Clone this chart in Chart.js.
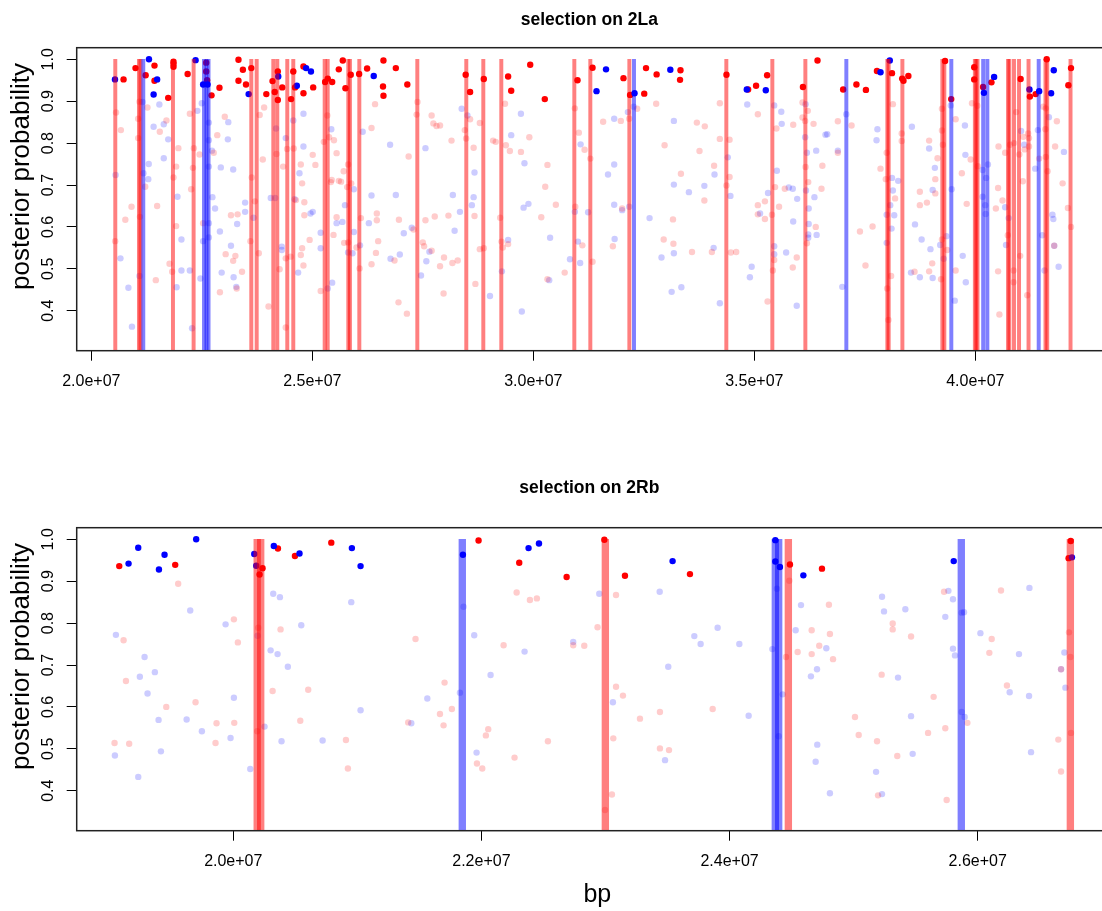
<!DOCTYPE html>
<html><head><meta charset="utf-8">
<script src="https://cdn.jsdelivr.net/npm/chart.js@4.4.1/dist/chart.umd.min.js"></script>
<style>
html,body{margin:0;padding:0;overflow:hidden;background:#fff;width:1102px;height:911px}
#c1{position:absolute;left:0;top:0}
#c2{position:absolute;left:0;top:455px}
</style></head><body>
<canvas id="c1" width="1195" height="455"></canvas>
<canvas id="c2" width="1195" height="456"></canvas>
<script>
// ===== Tick values / labels =====
const topXTicks = [20e6, 25e6, 30e6, 35e6, 40e6];
const topXTickLabels = ["2.0e+07", "2.5e+07", "3.0e+07", "3.5e+07", "4.0e+07"];
const botXTicks = [20e6, 22e6, 24e6, 26e6];
const botXTickLabels = ["2.0e+07", "2.2e+07", "2.4e+07", "2.6e+07"];
const yTicks = [0.4, 0.5, 0.6, 0.7, 0.8, 0.9, 1.0];
const yTickLabels = ["0.4", "0.5", "0.6", "0.7", "0.8", "0.9", "1.0"];

// ===== selection on 2La =====
const topRedHiPos = [20.73e6,21.00e6,21.23e6,21.43e6,21.43e6,21.74e6,21.86e6,21.86e6,21.86e6,22.18e6,22.60e6,22.60e6,22.62e6,22.72e6,22.90e6,23.33e6,23.43e6,23.33e6,23.50e6,23.62e6,23.96e6,24.10e6,24.15e6,24.22e6,24.22e6,24.32e6,24.52e6,24.57e6,24.61e6,24.80e6,24.80e6,25.02e6,25.29e6,25.35e6,25.45e6,25.60e6,25.69e6,25.75e6,25.87e6,26.06e6,26.24e6,26.61e6,26.60e6,26.61e6,26.89e6,27.15e6,28.47e6,28.57e6,28.88e6,29.43e6,29.50e6,29.93e6,30.26e6,31.00e6,31.34e6,32.04e6,32.19e6,32.55e6,32.51e6,32.79e6,33.33e6,33.32e6,34.37e6,34.86e6,35.04e6,35.29e6,36.10e6,36.43e6,37.01e6,37.31e6,37.525e6,37.775e6,38.115e6,38.345e6,38.375e6,38.485e6,39.315e6,39.455e6,39.975e6,39.975e6,40.175e6,40.365e6,41.025e6,41.235e6,41.365e6,41.615e6,42.105e6,42.165e6];
const topRedHiProb = [.952,.979,.962,.985,.949,.908,.994,.989,.982,.965,.992,.971,.950,.914,.932,.999,.975,.949,.940,.979,.917,.948,.922,.971,.903,.933,.905,.971,.933,.983,.919,.933,.946,.954,.946,.976,.997,.931,.963,.965,.978,.997,.935,.913,.979,.940,.963,.922,.953,.959,.925,.987,.905,.950,.980,.955,.915,.979,.918,.964,.974,.951,.963,.928,.937,.962,.934,.997,.928,.940,.927,.972,.967,.954,.949,.960,.996,.905,.981,.952,.934,.945,.953,.911,.917,1.0,.938,.979];
const topBlueHiPos = [20.536e6,21.305e6,21.41e6,21.49e6,22.36e6,22.53e6,22.63e6,23.56e6,24.23e6,24.65e6,24.86e6,24.97e6,26.39e6,31.43e6,31.645e6,32.29e6,33.10e6,34.83e6,35.26e6,37.855e6,38.065e6,40.195e6,40.425e6,41.225e6,41.445e6,41.715e6,41.775e6];
const topBlueHiProb = [.952,1.0,.916,.952,.998,.940,.940,.917,.959,.937,.979,.971,.960,.924,.976,.919,.975,.928,.926,.969,.997,.920,.958,.928,.924,.919,.974];
const topRedLoPos = [20.56e6,20.54e6,20.67e6,20.77e6,20.91e6,21.06e6,21.06e6,21.09e6,21.10e6,21.22e6,21.27e6,21.46e6,21.49e6,21.55e6,21.70e6,21.77e6,21.83e6,21.86e6,21.92e6,21.92e6,21.97e6,22.23e6,22.26e6,22.30e6,22.32e6,22.45e6,22.53e6,22.77e6,22.85e6,22.91e6,23.02e6,23.16e6,23.04e6,23.21e6,23.26e6,23.29e6,23.31e6,23.41e6,23.60e6,23.63e6,23.70e6,23.79e6,23.81e6,23.88e6,23.91e6,24.01e6,24.19e6,24.26e6,24.34e6,24.40e6,24.40e6,24.43e6,24.51e6,24.58e6,24.63e6,24.74e6,24.77e6,24.74e6,24.77e6,24.80e6,24.82e6,24.82e6,24.94e6,25.01e6,25.07e6,25.19e6,25.26e6,25.34e6,25.38e6,25.44e6,25.42e6,25.49e6,25.55e6,25.55e6,25.48e6,25.60e6,
26.42e6,26.34e6,27.18e6,27.38e6,27.36e6,27.70e6,27.74e6,27.81e6,27.89e6,28.15e6,28.57e6,28.45e6,28.48e6,28.65e6,28.79e6,29.09e6,29.15e6,29.36e6,29.38e6,29.47e6,29.72e6,29.91e6,30.32e6,30.27e6,30.51e6,30.18e6,30.94e6,31.03e6,31.16e6,31.29e6,30.95e6,31.11e6,31.34e6,30.71e6,30.32e6,28.69e6,29.43e6,29.28e6,29.31e6,29.25e6,28.79e6,28.88e6,28.67e6,28.08e6,28.29e6,28.17e6,27.98e6,27.89e6,27.97e6,27.77e6,27.56e6,27.50e6,27.53e6,27.70e6,27.29e6,26.96e6,26.86e6,26.95e6,27.14e6,26.46e6,26.46e6,26.49e6,26.44e6,26.34e6,26.10e6,26.00e6,26.07e6,25.81e6,25.72e6,25.71e6,25.65e6,25.79e6,25.81e6,25.88e6,
31.58e6,31.98e6,32.17e6,32.35e6,32.78e6,32.97e6,33.34e6,33.70e6,33.88e6,33.76e6,34.22e6,34.22e6,34.44e6,34.09e6,33.87e6,34.37e6,34.44e6,33.16e6,32.01e6,31.80e6,32.95e6,33.17e6,33.59e6,34.04e6,34.47e6,34.59e6,35.08e6,35.50e6,35.88e6,36.09e6,36.21e6,36.09e6,36.15e6,36.34e6,36.89e6,37.20e6,36.89e6,36.54e6,36.16e6,35.47e6,35.69e6,35.24e6,35.08e6,35.08e6,35.24e6,35.40e6,35.56e6,36.22e6,36.52e6,36.39e6,36.19e6,35.45e6,35.96e6,35.87e6,35.42e6,35.30e6,37.39e6,
38.135e6,38.335e6,38.335e6,37.995e6,37.855e6,37.975e6,38.185e6,37.675e6,37.515e6,38.095e6,38.005e6,38.035e6,39.025e6,38.625e6,38.955e6,39.225e6,38.745e6,38.745e6,38.905e6,39.095e6,39.095e6,39.145e6,38.955e6,39.245e6,39.245e6,39.265e6,39.555e6,39.895e6,39.695e6,39.805e6,39.925e6,40.045e6,40.055e6,40.465e6,40.515e6,40.615e6,40.525e6,40.675e6,40.785e6,40.875e6,40.925e6,41.085e6,40.995e6,41.115e6,41.215e6,41.215e6,41.195e6,41.075e6,41.445e6,41.535e6,41.595e6,41.845e6,41.585e6,41.595e6,41.635e6,41.805e6,41.975e6,42.095e6,42.165e6,41.785e6,40.735e6,40.865e6,40.865e6,41.015e6,41.175e6,40.515e6,40.545e6,39.555e6,39.365e6,39.245e6];
const topRedLoProb = [.873,.566,.831,.617,.648,.858,.812,.899,.624,.696,.885,.473,.650,.827,.854,.512,.493,.718,.602,.744,.788,.870,.690,.741,.788,.773,.609,.777,.819,.444,.863,.628,.535,.519,.531,.453,.630,.493,.566,.718,.661,.537,.867,.761,.885,.410,.774,.499,.744,.525,.360,.786,.529,.787,.664,.749,.704,.533,.549,.508,.659,.628,.569,.772,.748,.447,.803,.866,.814,.712,.707,.807,.776,.623,.581,.710,
.893,.836,.768,.898,.868,.866,.847,.841,.842,.806,.857,.831,.811,.789,.848,.806,.803,.894,.795,.781,.779,.814,.748,.696,.653,.623,.883,.825,.784,.763,.648,.556,.517,.491,.475,.464,.559,.565,.551,.622,.547,.549,.626,.627,.520,.514,.527,.506,.441,.625,.616,.563,.554,.543,.594,.617,.520,.420,.393,.632,.616,.566,.538,.511,.621,.551,.501,.563,.562,.733,.708,.695,.749,.704,
.851,.853,.858,.882,.894,.795,.727,.849,.840,.781,.895,.810,.808,.746,.663,.699,.719,.618,.644,.554,.570,.560,.540,.540,.539,.540,.869,.835,.844,.897,.877,.861,.853,.846,.852,.842,.777,.746,.743,.695,.691,.661,.652,.630,.619,.629,.648,.707,.691,.600,.561,.521,.527,.503,.496,.422,.589,
.893,.823,.805,.777,.739,.714,.668,.601,.508,.483,.453,.378,.513,.493,.494,.475,.684,.652,.658,.680,.714,.764,.806,.882,.830,.796,.857,.761,.728,.655,.895,.889,.745,.644,.693,.663,.792,.777,.796,.800,.874,.815,.773,.785,.812,.792,.823,.709,.763,.887,.883,.852,.833,.767,.733,.792,.704,.645,.600,.555,.580,.496,.468,.531,.437,.494,.391,.496,.545,.570];
const topBlueLoPos = [20.55e6,20.66e6,20.84e6,20.92e6,21.09e6,21.16e6,21.18e6,21.30e6,21.29e6,21.41e6,21.54e6,21.64e6,21.64e6,21.74e6,21.93e6,21.95e6,22.04e6,22.04e6,22.23e6,22.28e6,22.40e6,22.50e6,22.53e6,22.47e6,22.66e6,22.66e6,22.66e6,22.66e6,22.66e6,22.73e6,22.74e6,22.80e6,22.91e6,22.93e6,22.95e6,23.09e6,23.10e6,23.16e6,23.21e6,23.22e6,23.28e6,23.30e6,23.48e6,23.48e6,23.67e6,24.06e6,24.16e6,24.18e6,24.31e6,24.31e6,24.40e6,24.57e6,24.60e6,24.68e6,24.71e6,24.80e6,24.80e6,24.96e6,25.01e6,25.19e6,25.19e6,25.35e6,25.43e6,25.45e6,25.55e6,
26.14e6,26.76e6,27.56e6,28.38e6,28.51e6,28.67e6,29.50e6,29.72e6,29.80e6,29.89e6,29.78e6,31.07e6,30.94e6,31.24e6,30.38e6,31.01e6,30.83e6,31.06e6,30.36e6,29.74e6,29.02e6,29.29e6,29.43e6,28.65e6,28.61e6,28.34e6,28.18e6,28.22e6,27.65e6,27.58e6,27.46e6,27.25e6,27.07e6,26.89e6,26.98e6,26.77e6,26.34e6,26.28e6,26.08e6,25.94e6,25.91e6,25.81e6,25.68e6,25.74e6,25.94e6,
31.83e6,32.14e6,32.27e6,33.18e6,31.83e6,31.69e6,33.18e6,34.40e6,34.10e6,33.87e6,33.52e6,34.46e6,32.63e6,32.01e6,32.17e6,31.83e6,31.84e6,33.18e6,32.90e6,34.08e6,33.13e6,33.35e6,34.22e6,34.84e6,35.45e6,35.61e6,35.62e6,36.16e6,37.08e6,36.15e6,36.61e6,36.65e6,36.40e6,36.19e6,36.89e6,35.51e6,35.78e6,35.87e6,35.31e6,35.13e6,35.97e6,36.17e6,36.36e6,36.23e6,35.88e6,36.23e6,36.22e6,36.41e6,36.22e6,35.45e6,35.45e6,35.72e6,34.94e6,34.90e6,35.96e6,36.99e6,
37.785e6,37.765e6,38.565e6,38.115e6,38.255e6,38.135e6,38.075e6,37.995e6,38.165e6,38.105e6,37.995e6,38.635e6,38.785e6,38.985e6,38.545e6,38.745e6,39.035e6,39.035e6,39.085e6,38.955e6,39.445e6,39.765e6,39.775e6,39.465e6,40.165e6,40.285e6,40.245e6,40.165e6,40.225e6,40.235e6,40.675e6,40.755e6,41.035e6,41.105e6,41.355e6,41.415e6,41.665e6,42.005e6,41.745e6,41.765e6,41.515e6,41.785e6,41.885e6,41.565e6,40.695e6,39.715e6,39.785e6,39.535e6,39.285e6,39.205e6,39.345e6];
const topBlueLoProb = [.724,.525,.455,.362,.483,.898,.728,.750,.714,.839,.892,.845,.764,.809,.456,.672,.570,.496,.496,.358,.877,.895,.566,.477,.849,.807,.744,.609,.575,.782,.671,.644,.589,.742,.491,.809,.850,.555,.737,.480,.457,.607,.658,.636,.622,.669,.669,.835,.553,.545,.812,.854,.666,.491,.728,.870,.792,.632,.636,.586,.549,.453,.833,.467,.609,
.827,.796,.788,.882,.866,.730,.819,.870,.752,.655,.646,.797,.636,.635,.574,.565,.523,.514,.473,.398,.435,.494,.569,.671,.652,.636,.676,.591,.541,.518,.484,.598,.585,.676,.534,.524,.675,.609,.556,.588,.537,.539,.612,.652,.690,
.858,.874,.887,.853,.749,.725,.701,.766,.725,.698,.683,.674,.621,.640,.648,.653,.571,.537,.527,.550,.445,.456,.418,.892,.890,.875,.846,.893,.869,.814,.820,.821,.782,.777,.782,.734,.694,.691,.681,.632,.667,.687,.671,.644,.613,.607,.582,.581,.574,.554,.535,.539,.505,.480,.412,.457,
.833,.807,.839,.717,.710,.687,.652,.629,.628,.596,.562,.606,.570,.547,.491,.480,.478,.688,.741,.787,.890,.842,.772,.690,.736,.749,.717,.672,.652,.631,.647,.621,.829,.796,.739,.831,.862,.779,.629,.619,.580,.555,.505,.496,.557,.531,.468,.424,.524,.557,.578];
const topRedBands = [20.543e6,21.079e6,21.111e6,21.848e6,22.315e6,23.62e6,23.742e6,24.118e6,24.208e6,24.434e6,24.57e6,25.28e6,25.348e6,25.815e6,25.852e6,26.064e6,27.376e6,28.484e6,28.869e6,29.276e6,30.928e6,31.29e6,32.173e6,34.367e6,35.408e6,36.155e6,38.01e6,38.04e6,38.35e6,39.254e6,39.299e6,39.99e6,40.02e6,40.05e6,40.74e6,40.77e6,40.875e6,40.989e6,41.204e6,41.588e6,41.627e6,42.154e6];
const topBlueBands = [21.176e6,22.55e6,22.606e6,22.652e6,32.278e6,37.082e6,39.457e6,40.178e6,40.272e6,41.434e6];

// ===== selection on 2Rb =====
const botRedHiPos = [19.081e6,19.532e6,20.236e6,20.212e6,20.360e6,20.497e6,20.790e6,21.977e6,22.305e6,22.687e6,22.991e6,23.157e6,23.681e6,24.487e6,24.745e6,26.750e6,26.733e6];
const botRedHiProb = [.936,.939,.931,.916,.978,.960,.992,.997,.944,.910,.999,.913,.917,.940,.930,.996,.955];
const botBlueHiPos = [19.156e6,19.234e6,19.401e6,19.446e6,19.701e6,20.169e6,20.185e6,20.327e6,20.534e6,20.956e6,21.026e6,21.851e6,22.380e6,22.464e6,23.541e6,24.369e6,24.369e6,24.406e6,24.595e6,25.807e6,26.760e6];
const botBlueHiProb = [.942,.980,.928,.963,1.0,.965,.937,.984,.966,.979,.936,.963,.979,.990,.948,.998,.947,.934,.914,.948,.957];
const botRedLoPos = [19.116e6,19.135e6,19.043e6,19.161e6,19.460e6,19.556e6,19.696e6,19.857e6,19.865e6,20.005e6,20.008e6,20.037e6,20.201e6,20.193e6,20.381e6,20.317e6,20.540e6,20.604e6,21.469e6,20.908e6,20.924e6,21.410e6,21.703e6,21.666e6,21.762e6,21.695e6,21.964e6,22.007e6,22.036e6,22.055e6,22.179e6,22.284e6,22.391e6,22.447e6,22.267e6,22.536e6,22.740e6,22.829e6,22.936e6,23.085e6,23.085e6,23.141e6,23.063e6,23.052e6,22.996e6,23.278e6,23.439e6,23.439e6,23.512e6,23.864e6,24.455e6,24.482e6,24.549e6,24.662e6,24.809e6,24.723e6,24.662e6,24.834e6,24.801e6,25.011e6,25.041e6,25.315e6,25.315e6,25.463e6,25.226e6,25.645e6,25.189e6,25.352e6,25.600e6,25.739e6,25.197e6,25.750e6,25.729e6,25.917e6,26.113e6,26.094e6,26.188e6,26.236e6,26.650e6,26.672e6,26.672e6,26.736e6,26.747e6,26.752e6];
const botRedLoProb = [.759,.662,.514,.512,.600,.894,.611,.514,.561,.809,.562,.754,.789,.542,.785,.638,.567,.641,.762,.521,.453,.563,.658,.583,.595,.556,.465,.453,.532,.547,.747,.873,.855,.859,.479,.518,.747,.746,.790,.867,.648,.627,.525,.391,.354,.572,.588,.501,.497,.595,.719,.901,.731,.783,.774,.746,.726,.714,.844,.576,.533,.799,.785,.768,.677,.624,.518,.483,.538,.549,.389,.378,.875,.562,.762,.729,.878,.651,.522,.446,.690,.778,.719,.538];
const botBlueLoPos = [19.054e6,19.046e6,19.234e6,19.247e6,19.285e6,19.309e6,19.368e6,19.398e6,19.417e6,19.624e6,19.653e6,19.747e6,19.938e6,19.978e6,20.005e6,20.137e6,20.196e6,20.252e6,20.301e6,20.322e6,20.376e6,20.357e6,20.389e6,20.440e6,20.548e6,20.720e6,20.951e6,21.026e6,21.435e6,21.564e6,21.827e6,21.856e6,21.942e6,22.074e6,21.961e6,22.348e6,22.740e6,22.950e6,23.060e6,23.437e6,23.506e6,23.480e6,23.716e6,23.767e6,23.904e6,24.079e6,24.154e6,24.345e6,24.382e6,24.428e6,24.396e6,24.576e6,24.533e6,24.780e6,24.705e6,24.656e6,24.707e6,24.694e6,24.809e6,25.229e6,25.245e6,25.417e6,25.358e6,25.463e6,25.476e6,25.181e6,25.229e6,25.764e6,25.801e6,25.739e6,25.871e6,25.890e6,25.801e6,25.817e6,25.871e6,25.895e6,26.022e6,26.417e6,26.333e6,26.258e6,26.414e6,26.430e6,26.672e6,26.699e6,26.707e6];
const botBlueLoProb = [.772,.484,.433,.672,.719,.632,.683,.569,.494,.570,.830,.542,.797,.526,.622,.452,.770,.553,.735,.870,.862,.726,.518,.696,.795,.520,.850,.592,.561,.620,.634,.839,.771,.676,.491,.732,.755,.870,.611,.875,.696,.473,.769,.750,.789,.750,.579,.738,.882,.630,.530,.843,.783,.740,.690,.673,.510,.469,.394,.863,.828,.833,.670,.578,.488,.445,.392,.877,.857,.815,.825,.826,.739,.723,.588,.576,.776,.884,.726,.635,.626,.492,.690,.730,.646];
const botRedBands = [20.193e6,20.221e6,22.999e6,24.474e6,26.747e6];
const botBlueBands = [21.846e6,24.369e6,24.396e6,25.868e6];

// ===== axis ranges =====
const Y_MIN = 0.3046, Y_MAX = 1.0277;
const TOP_X_MIN = 19.670e6, TOP_X_MAX = 43.228e6;
const BOT_X_MIN = 18.738e6, BOT_X_MAX = 27.131e6;
const BAND_LOW = 0, BAND_HIGH = 1.0;

const FONT = '"Liberation Sans", Arial, Helvetica, sans-serif';
const RED_HI = 'rgb(255,0,0)', BLUE_HI = 'rgb(0,0,255)';
const RED_LO = 'rgba(255,0,0,0.2)', BLUE_LO = 'rgba(0,0,255,0.2)';
const RED_BAND = 'rgba(255,0,0,0.5)', BLUE_BAND = 'rgba(0,0,255,0.5)';

function pointSet(xs, ys, color, order) {
  return {
    type: 'scatter',
    data: xs.map((x, i) => ({x: x, y: ys[i]})),
    backgroundColor: color, borderColor: color,
    pointBackgroundColor: color, pointBorderWidth: 0,
    pointRadius: 3.2, pointHoverRadius: 3.2, showLine: false, order: order
  };
}
function bandSet(xs, color, thickness, order) {
  return {
    type: 'bar',
    data: xs.map(x => ({x: x, y: [BAND_LOW, BAND_HIGH]})),
    backgroundColor: color, borderWidth: 0,
    barThickness: thickness, grouped: false, order: order
  };
}

const framePlugin = {
  id: 'frame',
  afterDatasetsDraw(chart) {
    const a = chart.chartArea, ctx = chart.ctx;
    ctx.save();
    ctx.strokeStyle = '#222';
    ctx.lineWidth = 1.5;
    ctx.strokeRect(a.left, a.top, a.right - a.left, a.bottom - a.top);
    ctx.restore();
  }
};

const textPlugin = {
  id: 'texts',
  afterDraw(chart, args, opts) {
    const a = chart.chartArea, ctx = chart.ctx;
    ctx.save();
    ctx.fillStyle = '#000';
    ctx.textAlign = 'center';
    ctx.textBaseline = 'middle';
    ctx.font = 'bold 17.5px ' + FONT;
    ctx.fillText(opts.title, (a.left + a.right) / 2 + opts.titleShift, opts.titleY);
    ctx.font = '26px ' + FONT;
    ctx.translate(opts.yTitleX, (a.top + a.bottom) / 2 + opts.yTitleShift);
    ctx.rotate(-Math.PI / 2);
    ctx.fillText('posterior probability', 0, 0);
    ctx.restore();
  }
};

function makeChart(id, cfg) {
  const tickGrid = {display: true, drawOnChartArea: false, drawTicks: true, offset: false,
                    tickLength: 10, tickColor: '#000', tickWidth: 1};
  return new Chart(document.getElementById(id), {
    type: 'scatter',
    data: {datasets: cfg.datasets},
    options: {
      responsive: false, animation: false, devicePixelRatio: 1, events: [],
      layout: {padding: {left: 0, right: 77, top: cfg.padTop, bottom: 0}},
      plugins: {
        legend: {display: false}, tooltip: {enabled: false}, title: {display: false},
        texts: {title: cfg.title, titleY: cfg.titleY, titleShift: -8, yTitleX: 22, yTitleShift: -22.7}
      },
      scales: {
        x: {
          type: 'linear', position: 'bottom', min: cfg.xMin, max: cfg.xMax, offset: false,
          afterBuildTicks: s => { s.ticks = cfg.xTicks.map(v => ({value: v})); },
          afterFit: s => { s.height = cfg.xAxisH; },
          grid: tickGrid, border: {display: false},
          ticks: {autoSkip: false, maxRotation: 0, minRotation: 0, align: 'center', labelOffset: 0,
                  padding: 11, color: '#000', font: {family: FONT, size: 16},
                  callback: (v, i) => cfg.xTickLabels[i]},
          title: {display: cfg.showXTitle, text: 'bp', color: '#000',
                  font: {family: FONT, size: 25}, padding: {top: 0, bottom: 0.7}}
        },
        y: {
          type: 'linear', position: 'left', min: Y_MIN, max: Y_MAX,
          afterBuildTicks: s => { s.ticks = yTicks.map(v => ({value: v})); },
          afterFit: s => { s.width = 76.7; },
          grid: tickGrid, border: {display: false},
          ticks: {minRotation: 90, maxRotation: 90, crossAlign: 'center', padding: 7, color: '#000',
                  font: {family: FONT, size: 16},
                  callback: (v, i) => yTickLabels[i]},
          title: {display: false}
        }
      }
    },
    plugins: [framePlugin, textPlugin]
  });
}

makeChart('c1', {
  title: 'selection on 2La', titleY: 20, padTop: 47.7,
  xMin: TOP_X_MIN, xMax: TOP_X_MAX, xTicks: topXTicks, xTickLabels: topXTickLabels,
  xAxisH: 104.3, showXTitle: false,
  datasets: [
    bandSet(topRedBands, RED_BAND, 3.3, 1),
    bandSet(topBlueBands, BLUE_BAND, 3.3, 0),
    pointSet(topBlueHiPos, topBlueHiProb, BLUE_HI, 2),
    pointSet(topRedHiPos, topRedHiProb, RED_HI, 3),
    pointSet(topRedLoPos, topRedLoProb, RED_LO, 4),
    pointSet(topBlueLoPos, topBlueLoProb, BLUE_LO, 5)
  ]
});

makeChart('c2', {
  title: 'selection on 2Rb', titleY: 33.5, padTop: 72.7,
  xMin: BOT_X_MIN, xMax: BOT_X_MAX, xTicks: botXTicks, xTickLabels: botXTickLabels,
  xAxisH: 80.3, showXTitle: true,
  datasets: [
    bandSet(botRedBands, RED_BAND, 6.7, 1),
    bandSet(botBlueBands, BLUE_BAND, 6.7, 0),
    pointSet(botBlueHiPos, botBlueHiProb, BLUE_HI, 2),
    pointSet(botRedHiPos, botRedHiProb, RED_HI, 3),
    pointSet(botRedLoPos, botRedLoProb, RED_LO, 4),
    pointSet(botBlueLoPos, botBlueLoProb, BLUE_LO, 5)
  ]
});
</script>
</body></html>
